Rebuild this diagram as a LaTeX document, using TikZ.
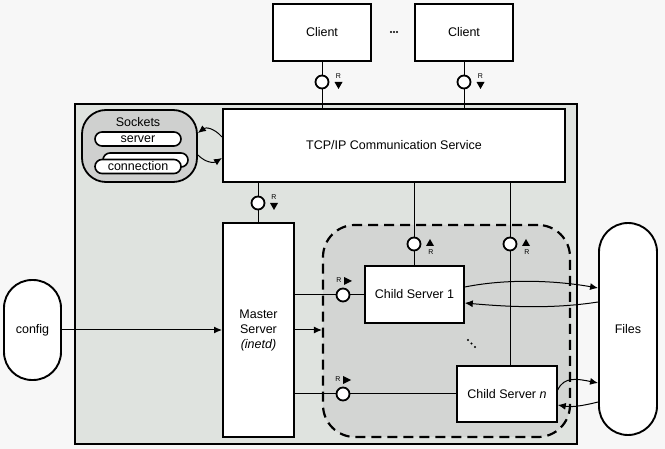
\documentclass[tikz,border=0pt]{standalone}
\usepackage{fontspec}
\setmainfont{Liberation Sans}
\usetikzlibrary{arrows.meta,calc}
\definecolor{bgc}{HTML}{F7F7F7}
\definecolor{outerc}{HTML}{DFE3DF}
\definecolor{poolc}{HTML}{D3D5D3}
\definecolor{sockc}{HTML}{CFD0CF}
\tikzset{
  txt/.style={font=\fontsize{12.5}{15}\selectfont},
  box/.style={draw, fill=white, line width=2pt, inner sep=0pt, txt, align=center},
  cbox/.style={box, line width=1.6pt},
  stadium/.style={draw, fill=white, line width=1.9pt, inner sep=0pt, txt},
  pill/.style={draw, fill=white, line width=1.6pt, rounded corners=7pt, inner sep=0pt, minimum width=86pt, minimum height=14pt, txt},
  lolli/.style={circle, draw, fill=white, line width=1.8pt, minimum size=13pt, inner sep=0pt},
  conn/.style={line width=1pt},
  arr/.style={conn, -{Latex[length=8pt,width=7pt]}},
  rlab/.style={font=\fontsize{7}{8}\selectfont, inner sep=0pt},
  rdown/.pic={\fill (-4,0) -- (4,0) -- (0,7) -- cycle; \node[rlab] at (0,-6) {R};},
  rup/.pic={\fill (-4,0) -- (4,0) -- (0,-7) -- cycle; \node[rlab] at (1,6) {R};},
  rright/.pic={\fill (0,-4) -- (0,4) -- (8,0) -- cycle; \node[rlab] at (-5,-1) {R};},
}
\begin{document}
\begin{tikzpicture}[x=1pt,y=-1pt]
\useasboundingbox (0,0) rectangle (665,449);
\fill[bgc] (0,0) rectangle (665,449);
% outer container
\node[draw, fill=outerc, line width=2.2pt, minimum width=502pt, minimum height=340pt, inner sep=0pt] (outer) at (326,274) {};
% sockets
\node[draw, fill=sockc, line width=1.8pt, rounded corners=24pt, minimum width=115pt, minimum height=72pt, inner sep=0pt] (sockets) at (139.5,146) {};
\node[txt, inner sep=0pt] (socklab) at (138,122) {Sockets};
\node[pill] (server) at (138,139) {server};
\node[pill, minimum width=85pt] (conn2) at (145.5,160) {};
\node[pill] (connection) at (138,166.5) {connection};
% pool of child servers
\node[draw, fill=poolc, line width=2.2pt, dash pattern=on 10pt off 6pt, rounded corners=32pt, minimum width=247pt, minimum height=212pt, inner sep=0pt] (pool) at (446.5,331) {};
% boxes
\node[box, minimum width=98pt, minimum height=57pt] (client1) at (322,32.5) {Client};
\node[box, minimum width=98pt, minimum height=57pt] (client2) at (464,32.5) {Client};
\node[box, minimum width=342pt, minimum height=73pt] (tcp) at (394,145.5) {TCP/IP Communication Service};
\node[box, minimum width=71pt, minimum height=214pt] (master) at (258.5,330) {Master\\Server\\\textit{(inetd)}};
\node[stadium, rounded corners=28pt, minimum width=57pt, minimum height=100pt] (config) at (32.5,330) {config};
\node[stadium, rounded corners=29pt, minimum width=58pt, minimum height=212pt] (files) at (628,329) {Files};
% dots between clients
\foreach \dx in {-3,0,3} \fill (394+\dx,32) circle (1.2pt);
% lollipops
\node[lolli] (lc1) at (322,82) {};
\node[lolli] (lc2) at (464,82) {};
\node[lolli] (lm) at (258,203) {};
\node[lolli] (lu1) at (414,244) {};
\node[lolli] (lu2) at (510,244) {};
\node[lolli] (ll1) at (343,295) {};
\node[lolli] (ll2) at (343,394) {};
% child servers
\node[cbox, minimum width=99pt, minimum height=57pt] (child1) at (414.5,294.5) {Child Server 1};
\node[cbox, minimum width=100pt, minimum height=56pt] (childn) at (507,394) {Child Server \textit{n}};
% connectors
\draw[conn] (client1) -- (lc1) -- (tcp.north -| lc1);
\draw[conn] (client2) -- (lc2) -- (tcp.north -| lc2);
\draw[conn] (tcp.south -| lm) -- (lm) -- (master.north -| lm);
\draw[conn] (tcp.south -| lu1) -- (lu1) -- (child1.north -| lu1);
\draw[conn] (tcp.south -| lu2) -- (lu2) -- (childn.north -| lu2);
\draw[conn] (master.east |- ll1) -- (ll1) -- (child1.west |- ll1);
\draw[conn] (master.east |- ll2) -- (ll2) -- (childn.west |- ll2);
\draw[arr] (config.east) -- (master.west);
\draw[arr] (master.east) -- (pool.west |- master.east);
% curved arrows sockets <-> tcp
\draw[arr] ([yshift=8.5pt]tcp.west) .. controls +(-8,-9) and +(8,-6) .. ([yshift=13pt]sockets.east);
\draw[arr] ([yshift=-9pt]sockets.east) .. controls +(8,8) and +(-8,5) .. ([yshift=-12.5pt]tcp.west);
% child1 <-> files
\draw[arr] ([yshift=7.5pt]child1.east) .. controls +(45,-9) and +(-40,-7) .. ([yshift=41pt]files.west);
\draw[arr] ([yshift=27pt]files.west) .. controls +(-45,7) and +(45,4) .. ([yshift=-8.5pt]child1.east);
% childn <-> files
\draw[arr] ([yshift=4pt]childn.east) .. controls +(6,-14) and +(-20,-4) .. ([yshift=-54pt]files.west);
\draw[arr] ([yshift=-73pt]files.west) .. controls +(-20,5) and +(12,2) .. ([yshift=-11pt]childn.east);
% diagonal dots
\foreach \k in {0,1,2} \fill (468+3.5*\k,340+3.5*\k) circle (1.2pt);
% R markers
\pic at (338.5,82) {rdown};
\pic at (480.5,82) {rdown};
\pic at (274,203) {rdown};
\pic at (430,246) {rup};
\pic at (526,246) {rup};
\pic at (344,281) {rright};
\pic at (343,380) {rright};
\end{tikzpicture}
\end{document}
